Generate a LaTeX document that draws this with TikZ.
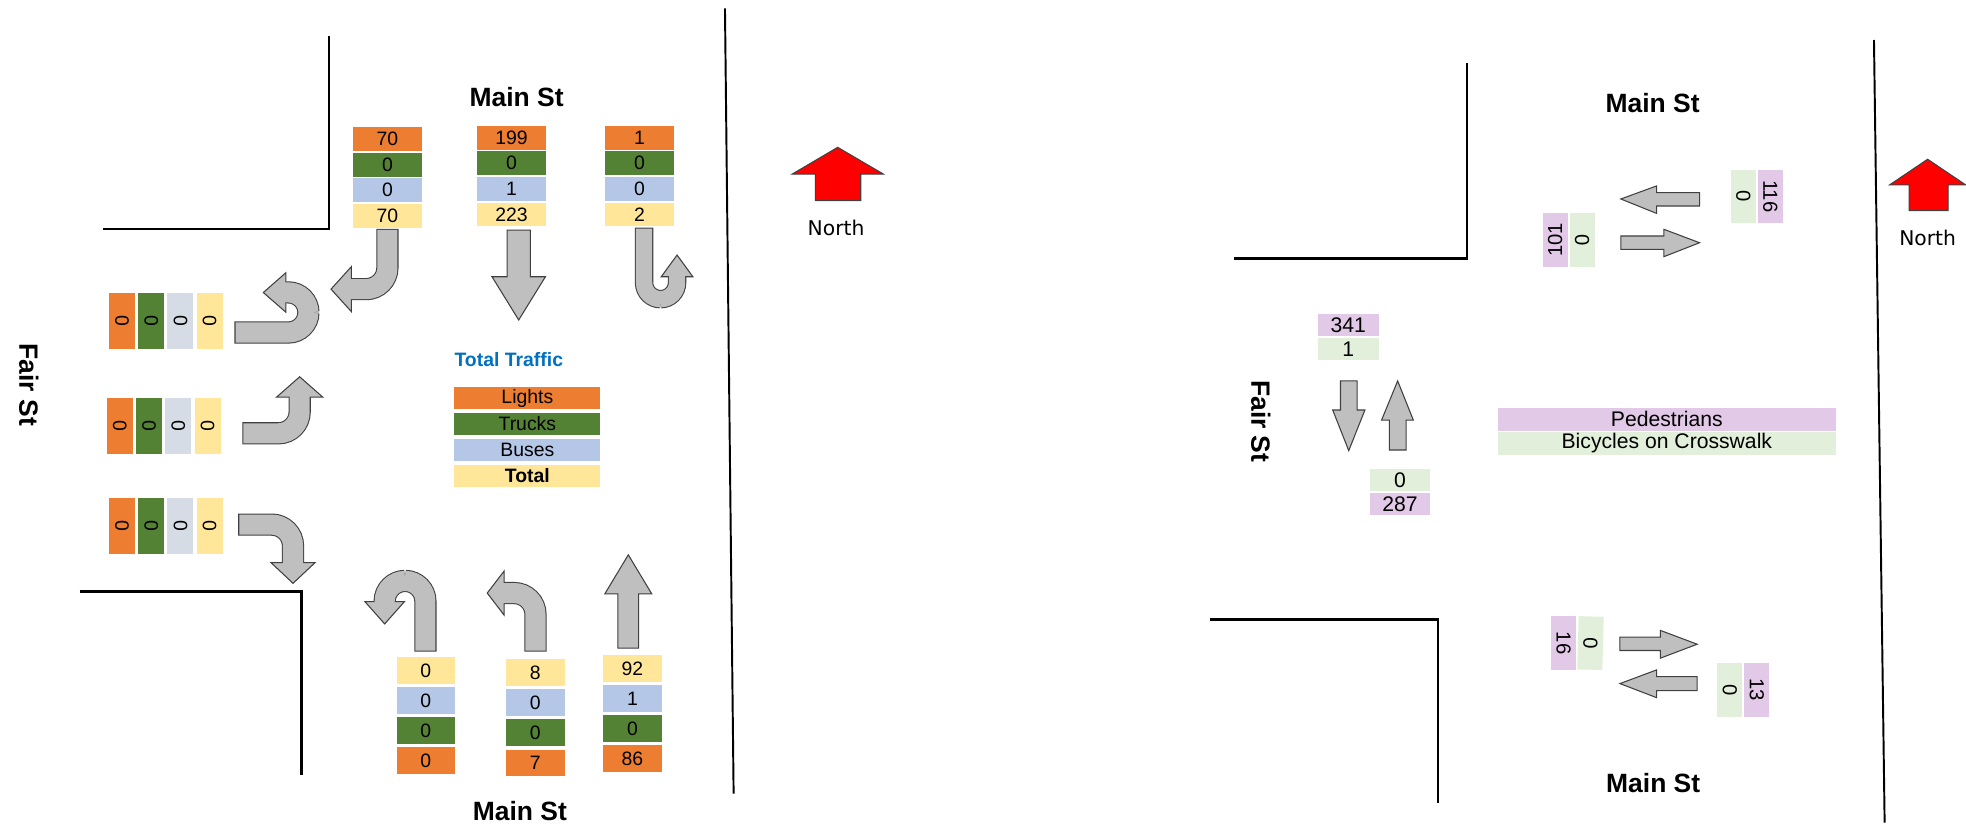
\documentclass[tikz,border=0pt]{standalone}
\usepackage{fontspec}
\setmainfont{Liberation Sans}
\newfontfamily\northfont{DejaVu Sans}
\usepackage{graphicx}
\usepackage{tikz}

\definecolor{lights}{HTML}{ED7D31}
\definecolor{trucks}{HTML}{548235}
\definecolor{buses}{HTML}{B4C7E7}
\definecolor{busespale}{HTML}{D6DCE5}
\definecolor{totals}{HTML}{FFE699}
\definecolor{walkers}{HTML}{E2C9E7}
\definecolor{bikes}{HTML}{E2EFDA}
\definecolor{arrowgray}{HTML}{BFBFBF}
\definecolor{arrowline}{HTML}{404040}
\definecolor{titleblue}{HTML}{0070C0}

\begin{document}
\begin{tikzpicture}[
            x = 0.025cm, y = -0.025cm,
            topbox/.style = {
                inner sep = 0pt,
                minimum width = 1.375cm, minimum height = 0.475cm,
                node distance = 0.51cm,
                font = \fontsize{11}{11}\selectfont,
            },
            lowbox/.style = {
                inner sep = 0pt,
                minimum width = 1.1625cm, minimum height = 0.5375cm,
                node distance = 0.6cm,
                font = \fontsize{11}{11}\selectfont,
            },
            sidebox/.style = {
                inner sep = 0pt,
                minimum width = 0.5175cm, minimum height = 1.11cm,
                node distance = 0.5825cm,
                font = \fontsize{11}{11}\selectfont,
            },
            legendbar/.style = {
                inner sep = 0pt,
                minimum width = 2.91cm, minimum height = 0.4325cm,
                node distance = 0.5175cm,
                font = \fontsize{11}{11}\selectfont,
            },
            crossbox/.style = {
                inner sep = 0pt,
                minimum width = 1.2075cm, minimum height = 0.44cm,
                node distance = 0.48cm,
                font = \fontsize{12}{12}\selectfont,
            },
            pairbox/.style = {
                inner sep = 0pt,
                minimum width = 0.5cm, minimum height = 1.0625cm,
                node distance = 0.5375cm,
                font = \fontsize{11.5}{11.5}\selectfont,
            },
            crossbar/.style = {
                inner sep = 0pt,
                minimum width = 6.7375cm, minimum height = 0.45cm,
                node distance = 0.48cm,
                font = \fontsize{12}{12}\selectfont,
            },
            street/.style = {font = \bfseries\fontsize{15}{15}\selectfont},
            northlabel/.style = {font = \northfont\fontsize{11.5}{11.5}\selectfont},
            curb/.style = {line width = 1.4pt, line join = miter},
            edgeline/.style = {line width = 1.1pt},
            shaftedge/.style = {draw = arrowline, line width = #1 + 1.2pt},
            shaftfill/.style = {draw = arrowgray, line width = #1, shorten <= 0.6pt},
            headshape/.style = {fill = arrowgray, draw = arrowline, line width = 0.6pt, line join = miter},
            flatarrow/.style = {fill = arrowgray, draw = arrowline, line width = 0.6pt, line join = miter},
            northarrow/.style = {fill = red, draw = arrowline, line width = 0.6pt, line join = miter},
        ]

        \path[use as bounding box, fill = white] (0,0) rectangle (1568,659);

        % Stoepranden
        \draw[curb] (82.4,182.6) -- (262.4,182.6) -- (262.4,28.7);
        \draw[curb] (63.5,471.9) -- (240.5,471.9) -- (240.5,618);
        \draw[edgeline] (578.2,6.6) -- (585.1,633);
        \draw[curb] (984,206) -- (1170,206) -- (1170,50);
        \draw[curb] (964.7,494) -- (1147,494) -- (1147,640.6);
        \draw[edgeline] (1494.6,31.9) -- (1503.1,656.1);

        % Straatnamen
        \node[street] (main_n) at (412,77) {Main St};
        \node[street] (main_s) at (414.6,647) {Main St};
        \node[street, rotate = -90] (fair_w) at (23,307) {Fair St};
        \node[street] (main_n_ped) at (1318,82) {Main St};
        \node[street] (main_s_ped) at (1318.5,624.7) {Main St};
        \node[street, rotate = -90] (fair_w_ped) at (1005.6,336) {Fair St};

        % Noordpijlen
        \draw[northarrow] (650.3,160) -- (650.3,138.8) -- (631.9,138.8) -- (668.1,117.5)
            -- (704.5,138.8) -- (686.5,138.8) -- (686.5,160) -- cycle;
        \node[northlabel] (north_l) at (666.8,181.5) {North};
        \draw[northarrow] (1522.6,168) -- (1522.6,147.5) -- (1507,147.5) -- (1537.4,127)
            -- (1567.8,147.5) -- (1553.8,147.5) -- (1553.8,168) -- cycle;
        \node[northlabel] (north_r) at (1537.4,190) {North};

        % Tellingen zuidwaarts
        \node[topbox, fill = lights] (sb_right_lights) at (309,110.9) {70};
        \node[topbox, fill = trucks, below of = sb_right_lights] (sb_right_trucks) {0};
        \node[topbox, fill = buses, below of = sb_right_trucks] (sb_right_buses) {0};
        \node[topbox, fill = totals, below of = sb_right_buses] (sb_right_total) {70};

        \node[topbox, fill = lights] (sb_thru_lights) at (408,109.8) {199};
        \node[topbox, fill = trucks, below of = sb_thru_lights] (sb_thru_trucks) {0};
        \node[topbox, fill = buses, below of = sb_thru_trucks] (sb_thru_buses) {1};
        \node[topbox, fill = totals, below of = sb_thru_buses] (sb_thru_total) {223};

        \node[topbox, fill = lights] (sb_uturn_lights) at (510,109.8) {1};
        \node[topbox, fill = trucks, below of = sb_uturn_lights] (sb_uturn_trucks) {0};
        \node[topbox, fill = buses, below of = sb_uturn_trucks] (sb_uturn_buses) {0};
        \node[topbox, fill = totals, below of = sb_uturn_buses] (sb_uturn_total) {2};

        % Tellingen oostwaarts
        \node[sidebox, fill = lights] (eb_uturn_lights) at (97.3,256.1) {\rotatebox{-90}{0}};
        \node[sidebox, fill = trucks, right of = eb_uturn_lights] (eb_uturn_trucks) {\rotatebox{-90}{0}};
        \node[sidebox, fill = busespale, right of = eb_uturn_trucks] (eb_uturn_buses) {\rotatebox{-90}{0}};
        \node[sidebox, fill = totals, right of = eb_uturn_buses] (eb_uturn_total) {\rotatebox{-90}{0}};

        \node[sidebox, fill = lights] (eb_left_lights) at (95.6,339.5) {\rotatebox{-90}{0}};
        \node[sidebox, fill = trucks, right of = eb_left_lights] (eb_left_trucks) {\rotatebox{-90}{0}};
        \node[sidebox, fill = busespale, right of = eb_left_trucks] (eb_left_buses) {\rotatebox{-90}{0}};
        \node[sidebox, fill = totals, right of = eb_left_buses] (eb_left_total) {\rotatebox{-90}{0}};

        \node[sidebox, fill = lights] (eb_right_lights) at (97.3,419.7) {\rotatebox{-90}{0}};
        \node[sidebox, fill = trucks, right of = eb_right_lights] (eb_right_trucks) {\rotatebox{-90}{0}};
        \node[sidebox, fill = busespale, right of = eb_right_trucks] (eb_right_buses) {\rotatebox{-90}{0}};
        \node[sidebox, fill = totals, right of = eb_right_buses] (eb_right_total) {\rotatebox{-90}{0}};

        % Tellingen noordwaarts
        \node[lowbox, fill = totals] (nb_uturn_total) at (339.6,534.9) {0};
        \node[lowbox, fill = buses, below of = nb_uturn_total] (nb_uturn_buses) {0};
        \node[lowbox, fill = trucks, below of = nb_uturn_buses] (nb_uturn_trucks) {0};
        \node[lowbox, fill = lights, below of = nb_uturn_trucks] (nb_uturn_lights) {0};

        \node[lowbox, fill = totals] (nb_left_total) at (427,536.5) {8};
        \node[lowbox, fill = buses, below of = nb_left_total] (nb_left_buses) {0};
        \node[lowbox, fill = trucks, below of = nb_left_buses] (nb_left_trucks) {0};
        \node[lowbox, fill = lights, below of = nb_left_trucks] (nb_left_lights) {7};

        \node[lowbox, fill = totals] (nb_thru_total) at (504.4,533.2) {92};
        \node[lowbox, fill = buses, below of = nb_thru_total] (nb_thru_buses) {1};
        \node[lowbox, fill = trucks, below of = nb_thru_buses] (nb_thru_trucks) {0};
        \node[lowbox, fill = lights, below of = nb_thru_trucks] (nb_thru_lights) {86};

        % Legenda
        \node[font = \bfseries\fontsize{11}{11}\selectfont, text = titleblue] (legend_title) at (405.8,287) {Total Traffic};
        \node[legendbar, fill = lights] (legend_lights) at (420.6,317.5) {Lights};
        \node[legendbar, fill = trucks, below of = legend_lights] (legend_trucks) {Trucks};
        \node[legendbar, fill = buses, below of = legend_trucks] (legend_buses) {Buses};
        \node[legendbar, fill = totals, below of = legend_buses] (legend_total) {\textbf{Total}};

        % Pijlen zuidwaarts
        \draw[shaftedge = 0.4cm, rounded corners = 0.425cm] (309,182.5) -- (309,230.6) -- (277,230.6);
        \draw[headshape] (280.2,212.7) -- (264,230.6) -- (280.2,248.5) -- cycle;
        \draw[shaftfill = 0.4cm, rounded corners = 0.425cm] (309,182.5) -- (309,230.6) -- (277,230.6);

        \draw[flatarrow] (404.4,183.5) -- (423,183.5) -- (423,220.7) -- (435,220.7)
            -- (413.7,255.2) -- (392.4,220.7) -- (404.4,220.7) -- cycle;

        \draw[shaftedge = 0.325cm, rounded corners = 0.32875cm] (513.7,181.5) -- (513.7,238.6) -- (540,238.6) -- (540,217.7);
        \draw[headshape] (527.4,220.7) -- (540,203.4) -- (552.6,220.7) -- cycle;
        \draw[shaftfill = 0.325cm, rounded corners = 0.32875cm] (513.7,181.5) -- (513.7,238.6) -- (540,238.6) -- (540,217.7);

        % Pijlen oostwaarts
        \draw[shaftedge = 0.4cm, rounded corners = 0.4cm] (187,265.2) -- (246,265.2) -- (246,233.2) -- (225,233.2);
        \draw[headshape] (228,217.5) -- (210,233.3) -- (228,249) -- cycle;
        \draw[shaftfill = 0.4cm, rounded corners = 0.4cm] (187,265.2) -- (246,265.2) -- (246,233.2) -- (225,233.2);

        \draw[shaftedge = 0.4cm, rounded corners = 0.425cm] (193.3,345.6) -- (239,345.6) -- (239,313.8);
        \draw[headshape] (220.5,316.8) -- (239,300.5) -- (257.5,316.8) -- cycle;
        \draw[shaftfill = 0.4cm, rounded corners = 0.425cm] (193.3,345.6) -- (239,345.6) -- (239,313.8);

        \draw[shaftedge = 0.4cm, rounded corners = 0.425cm] (190,418.4) -- (233.7,418.4) -- (233.7,451.7);
        \draw[headshape] (216.1,448.7) -- (233.7,465.2) -- (251.3,448.7) -- cycle;
        \draw[shaftfill = 0.4cm, rounded corners = 0.425cm] (190,418.4) -- (233.7,418.4) -- (233.7,451.7);

        % Pijlen noordwaarts
        \draw[shaftedge = 0.4cm, rounded corners = 0.40625cm] (339.3,519.7) -- (339.3,463.3) -- (306.8,463.3) -- (306.8,482.8);
        \draw[headshape] (291,479.8) -- (306.8,497.6) -- (322.6,479.8) -- cycle;
        \draw[shaftfill = 0.4cm, rounded corners = 0.40625cm] (339.3,519.7) -- (339.3,463.3) -- (306.8,463.3) -- (306.8,482.8);

        \draw[shaftedge = 0.4cm, rounded corners = 0.425cm] (427.1,519.7) -- (427.1,473) -- (399,473);
        \draw[headshape] (402,455.5) -- (388.6,473) -- (402,490.5) -- cycle;
        \draw[shaftfill = 0.4cm, rounded corners = 0.425cm] (427.1,519.7) -- (427.1,473) -- (399,473);

        \draw[flatarrow] (492.8,516.9) -- (509.4,516.9) -- (509.4,473.6) -- (519.8,473.6)
            -- (501.1,442.5) -- (482.4,473.6) -- (492.8,473.6) -- cycle;

        % Voetgangers en fietsers
        \node[pairbox, fill = walkers] (ped_n_east) at (1240.3,191.4) {\rotatebox{90}{101}};
        \node[pairbox, fill = bikes, right of = ped_n_east] (bike_n_east) {\rotatebox{-90}{0}};
        \node[pairbox, fill = bikes] (bike_n_west) at (1390.5,156.5) {\rotatebox{-90}{0}};
        \node[pairbox, fill = walkers, right of = bike_n_west] (ped_n_west) {\rotatebox{-90}{116}};

        \node[crossbox, fill = walkers] (ped_w_south) at (1075.3,259.2) {341};
        \node[crossbox, fill = bikes, below of = ped_w_south] (bike_w_south) {1};
        \node[crossbox, fill = bikes] (bike_w_north) at (1116.6,382.8) {0};
        \node[crossbox, fill = walkers, below of = bike_w_north] (ped_w_north) {287};

        \node[pairbox, fill = walkers] (ped_s_east) at (1247,512.9) {\rotatebox{-90}{16}};
        \node[pairbox, fill = bikes, right of = ped_s_east, rotate = -1.5] (bike_s_east) {\rotatebox{-90}{0}};
        \node[pairbox, fill = bikes] (bike_s_west) at (1379.6,550.3) {\rotatebox{-90}{0}};
        \node[pairbox, fill = walkers, right of = bike_s_west] (ped_s_west) {\rotatebox{-90}{13}};

        \node[crossbar, fill = walkers] (legend_walkers) at (1329.4,334.5) {Pedestrians};
        \node[crossbar, fill = bikes, below of = legend_walkers] (legend_bikes) {Bicycles on Crosswalk};

        \draw[flatarrow] (1355.5,153.7) -- (1321.2,153.7) -- (1321.2,148.3) -- (1292.7,158.7)
            -- (1321.2,170.2) -- (1321.2,164.3) -- (1355.5,164.3) -- cycle;
        \draw[flatarrow] (1292.7,188.2) -- (1327.1,188.2) -- (1327.1,182.9) -- (1355.5,193.6)
            -- (1327.1,204.7) -- (1327.1,198.9) -- (1292.7,198.9) -- cycle;
        \draw[flatarrow] (1292,508.2) -- (1324.3,508.2) -- (1324.3,502.8) -- (1353.6,513.8)
            -- (1324.3,524.9) -- (1324.3,518.8) -- (1292,518.8) -- cycle;
        \draw[flatarrow] (1353.6,539.6) -- (1321.2,539.6) -- (1321.2,534.3) -- (1292,545.2)
            -- (1321.2,556.4) -- (1321.2,550.8) -- (1353.6,550.8) -- cycle;
        \draw[flatarrow] (1069.1,303.8) -- (1082.4,303.8) -- (1082.4,327) -- (1088.6,327)
            -- (1075.7,359.4) -- (1062.9,327) -- (1069.1,327) -- cycle;
        \draw[flatarrow] (1108.1,358.9) -- (1121.4,358.9) -- (1121.4,335) -- (1127.2,335)
            -- (1114.7,303.8) -- (1101.9,335) -- (1108.1,335) -- cycle;
    \end{tikzpicture}
\end{document}
